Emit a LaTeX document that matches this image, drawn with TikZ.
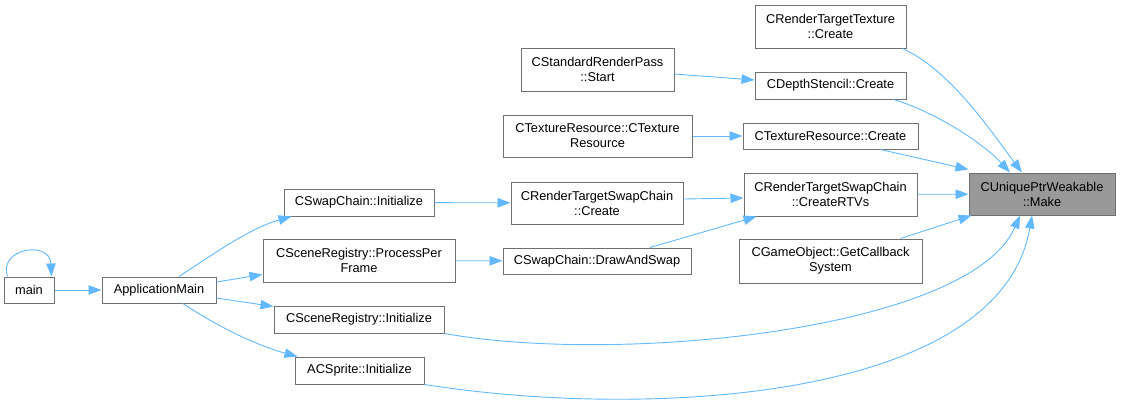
\documentclass[tikz,border=0pt]{standalone}
\usepackage{fontspec}
\setmainfont{Liberation Sans}
\usetikzlibrary{arrows.meta}

\definecolor{edgeblue}{HTML}{63B8FF}
\definecolor{boxgray}{HTML}{707070}
\definecolor{hitgray}{HTML}{999999}

\begin{document}
\begin{tikzpicture}[
    x = 1pt, y = -1pt,
    fn/.style = {draw = boxgray, line width = 1pt, fill = white, inner sep = 0pt,
                 align = center, font = \fontsize{12.8}{15}\selectfont},
    edge/.style = {draw = edgeblue, line width = 0.9pt,
                   -{Triangle[length = 13pt, width = 9.5pt]}}]

\useasboundingbox (0,0) rectangle (1121,407);

% callers, left to right
\node[fn, minimum width = 50, minimum height = 26] (main) at (29,290) {main};
\node[fn, minimum width = 114, minimum height = 26] (appmain) at (159,290) {ApplicationMain};

\node[fn, minimum width = 150, minimum height = 27] (swapinit) at (359,202.5) {CSwapChain::Initialize};
\node[fn, minimum width = 192, minimum height = 43] (perframe) at (359,260.5) {CSceneRegistry::ProcessPer\\Frame};
\node[fn, minimum width = 170, minimum height = 27] (sceneinit) at (359,319.5) {CSceneRegistry::Initialize};
\node[fn, minimum width = 129, minimum height = 27] (spriteinit) at (359.5,370.5) {ACSprite::Initialize};

\node[fn, minimum width = 153, minimum height = 43] (stdpass) at (597.5,69.5) {CStandardRenderPass\\::Start};
\node[fn, minimum width = 189, minimum height = 42] (texctor) at (597.5,136) {CTextureResource::CTexture\\Resource};
\node[fn, minimum width = 172, minimum height = 42] (rtscreate) at (597,203) {CRenderTargetSwapChain\\::Create};
\node[fn, minimum width = 188, minimum height = 26] (drawswap) at (597,261) {CSwapChain::DrawAndSwap};

\node[fn, minimum width = 151, minimum height = 43] (rttex) at (830.5,26.5) {CRenderTargetTexture\\::Create};
\node[fn, minimum width = 151, minimum height = 27] (depth) at (830.5,85.5) {CDepthStencil::Create};
\node[fn, minimum width = 175, minimum height = 26] (texcreate) at (830.5,136) {CTextureResource::Create};
\node[fn, minimum width = 173, minimum height = 43] (rtvs) at (830.5,194.5) {CRenderTargetSwapChain\\::CreateRTVs};
\node[fn, minimum width = 183, minimum height = 44] (callback) at (830.5,261) {CGameObject::GetCallback\\System};

\node[fn, fill = hitgray, minimum width = 146, minimum height = 42] (make) at (1042,194) {CUniquePtrWeakable\\::Make};

% calls
\draw[edge] ([xshift=4pt]main.north west) .. controls (-2,248) and (50,240) .. ([xshift=-3pt]main.north east);
\draw[edge] (main) -- (appmain);
\draw[edge] ([xshift=20pt]appmain.north) .. controls (212,255) and (250,228) .. ([xshift=8pt]swapinit.south west);
\draw[edge] ([yshift=8pt]appmain.east) -- ([yshift=-14pt]perframe.west);
\draw[edge] ([yshift=-8pt]appmain.east) -- ([yshift=-1pt]sceneinit.north west);
\draw[edge] ([xshift=24pt]appmain.south) .. controls (215,325) and (255,345) .. ([xshift=3pt]spriteinit.north west);

\draw[edge] (swapinit) -- (rtscreate);
\draw[edge] (perframe) -- (drawswap);
\draw[edge] ([xshift=53pt]drawswap.north) -- ([xshift=13pt]rtvs.south west);
\draw[edge] ([yshift=4pt]rtscreate.east) -- ([yshift=-3.5pt]rtvs.west);
\draw[edge] ([yshift=-4.5pt]stdpass.east) -- ([yshift=5.5pt]depth.west);
\draw[edge] (texctor) -- (texcreate);

\draw[edge] ([xshift=-4pt]rttex.south east) .. controls (950,70) and (990,130) .. ([xshift=-20pt]make.north);
\draw[edge] ([xshift=-13pt]depth.south east) .. controls (930,110) and (980,140) .. ([xshift=-32pt]make.north);
\draw[edge] ([xshift=-38pt]texcreate.south east) -- ([yshift=3pt]make.north west);
\draw[edge] (rtvs) -- (make);
\draw[edge] ([xshift=-22pt]callback.north east) -- ([xshift=3pt]make.south west);
\draw[edge] (sceneinit.south east) .. controls (620,365) and (970,330) .. ([xshift=-22pt]make.south);
\draw[edge] (spriteinit.south east) .. controls (650,420) and (1000,400) .. ([xshift=-10pt]make.south);
\end{tikzpicture}
\end{document}
